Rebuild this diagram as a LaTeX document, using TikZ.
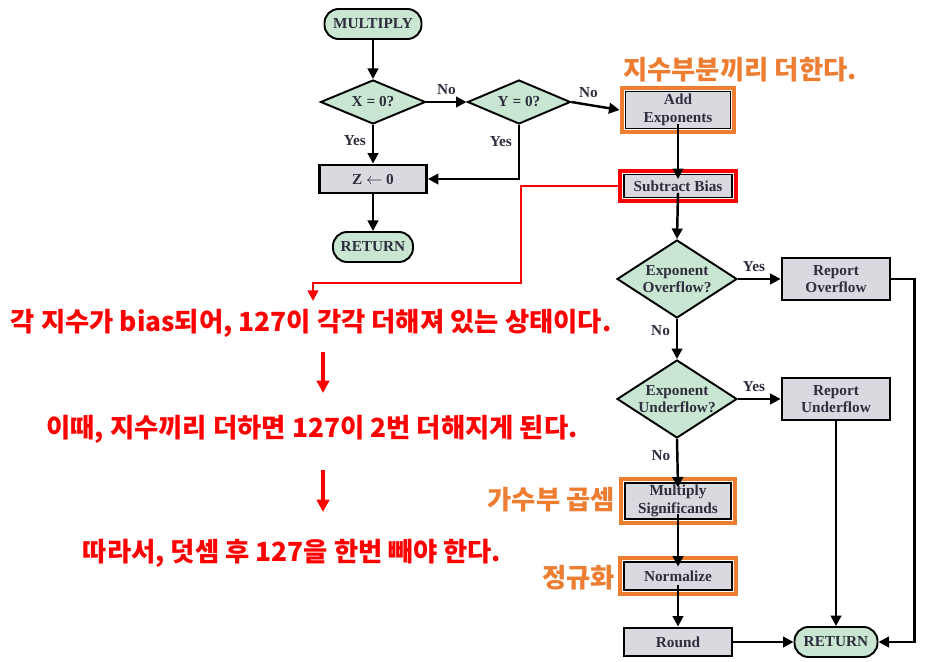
\documentclass[tikz,border=0pt]{standalone}
\usepackage{fontspec}
\setmainfont{Liberation Serif}
\newfontfamily\kor{Noto Sans CJK KR}
\usetikzlibrary{shapes.geometric,arrows.meta}
\definecolor{termfill}{HTML}{C8E6D1}
\definecolor{boxfill}{HTML}{D9DADF}
\definecolor{hlorange}{HTML}{ED7D31}
\definecolor{inkdark}{HTML}{2E2E3E}
\begin{document}
\begin{tikzpicture}[
      x=0.02cm, y=-0.02cm,
      every node/.style={font=\bfseries\fontsize{8.7}{10}\selectfont, text=inkdark},
      term/.style={draw, line width=1.1pt, rounded corners=8pt, fill=termfill, minimum height=0.6cm, inner sep=1pt},
      proc/.style={draw, line width=1.6pt, fill=boxfill, minimum width=2.16cm, minimum height=0.56cm, align=center, inner sep=1pt},
      dec/.style={draw, line width=1.1pt, diamond, fill=termfill, aspect=2.4, inner sep=0pt, align=center},
      bigdec/.style={dec, aspect=1.54, inner sep=-4pt, minimum width=2.4cm, minimum height=1.56cm},
      flow/.style={line width=1.4pt, -{Triangle[length=6pt,width=6pt]}},
      hlframe/.style={draw=hlorange, line width=2.3pt},
      redframe/.style={draw=red, line width=2.4pt},
      redline/.style={draw=red, line width=1.3pt, -{Triangle[length=6pt,width=6pt]}},
      redarrow/.style={draw=red, line width=1.8pt, -{Triangle[length=7pt,width=7pt]}},
      note/.style={font=\kor\bfseries\fontsize{15}{18}\selectfont, inner sep=1pt}
    ]
      \useasboundingbox (0,0) rectangle (929,662);

      % left branch
      \node[term, minimum width=1.94cm] (mul) at (373,24) {MULTIPLY};
      \node[dec, minimum width=2.1cm, minimum height=0.88cm] (xz) at (373,102) {X = 0?};
      \node[dec, minimum width=2.06cm, minimum height=0.88cm] (yz) at (519,102) {Y = 0?};
      \node[proc, minimum width=2.14cm] (zset) at (373,179) {Z $\leftarrow$ 0};
      \node[term, minimum width=1.6cm] (ret1) at (373,247) {RETURN};

      % main column
      \node[proc, minimum width=2.1cm, minimum height=0.74cm, line width=0.8pt] (add) at (678,110) {Add\\Exponents};
      \node[proc, minimum height=0.46cm, line width=0.8pt] (sub) at (678,186) {Subtract Bias};
      \node[bigdec] (ovf) at (677,279) {Exponent\\Overflow?};
      \node[bigdec] (unf) at (677,399) {Exponent\\Underflow?};
      \node[proc, minimum width=2.12cm, minimum height=0.72cm, line width=0.8pt] (msig) at (678,501) {Multiply\\Significands};
      \node[proc, minimum height=0.56cm, line width=0.8pt] (norm) at (678,576) {Normalize};
      \node[proc] (rnd) at (678,642) {Round};

      % right column
      \node[proc, minimum height=0.84cm] (rovf) at (836,279) {Report\\Overflow};
      \node[proc, minimum height=0.84cm] (runf) at (836,399) {Report\\Underflow};
      \node[term, minimum width=1.66cm] (ret2) at (836,642) {RETURN};

      \draw[hlframe] ([shift={(-3,-3)}]add.north west) rectangle ([shift={(3,3)}]add.south east);
      \draw[redframe] ([shift={(-3,-3)}]sub.north west) rectangle ([shift={(3,3)}]sub.south east);
      \draw[hlframe] ([shift={(-3,-3)}]msig.north west) rectangle ([shift={(3,3)}]msig.south east);
      \draw[hlframe] ([shift={(-3,-3)}]norm.north west) rectangle ([shift={(3,3)}]norm.south east);

      \draw[flow] (mul) -- (xz);
      \draw[flow] (xz) -- node[above] {No} (yz);
      \draw[flow] (yz.east) -- node[above, xshift=-4, yshift=1] {No} ([xshift=-3]add.west);
      \draw[flow] (xz) -- node[left, pos=0.4] {Yes} (zset);
      \draw[flow] (yz.south) |- node[left, pos=0.15] {Yes} (zset.east);
      \draw[flow] (zset) -- (ret1);
      \draw[flow] ([yshift=3]add.south) -- ([yshift=-3]sub.north);
      \draw[flow] ([yshift=3]sub.south) -- (ovf.north);
      \draw[flow] (ovf.east) -- node[above, xshift=-3] {Yes} (rovf.west);
      \draw[flow] (ovf.south) -- node[left, pos=0.3] {No} (unf.north);
      \draw[flow] (unf.east) -- node[above, xshift=-3] {Yes} (runf.west);
      \draw[flow] (unf.south) -- node[left, pos=0.35] {No} ([yshift=-3]msig.north);
      \draw[flow] ([yshift=3]msig.south) -- ([yshift=-3]norm.north);
      \draw[flow] ([yshift=3]norm.south) -- (rnd);
      \draw[flow] (rnd) -- (ret2);
      \draw[flow] (runf) -- (ret2);
      \draw[flow] (rovf.east) -- ++(23,0) |- (ret2.east);

      % notes
      \node[note, text=hlorange] (n0) at (740,70) {지수부분끼리 더한다.};
      \node[note, text=hlorange, anchor=east] (n4) at (617,500) {가수부 곱셈};
      \node[note, text=hlorange, anchor=east] (n5) at (617,578) {정규화};
      \node[note, text=red] (n1) at (311,323) {각 지수가 bias되어, 127이 각각 더해져 있는 상태이다.};
      \node[note, text=red] (n2) at (312,429) {이때, 지수끼리 더하면 127이 2번 더해지게 된다.};
      \node[note, text=red] (n3) at (292,553) {따라서, 덧셈 후 127을 한번 빼야 한다.};

      \coordinate (redend) at (313,301);
      \draw[redline] ([xshift=-3]sub.west) -- (521,186) -- (521,283) -| (redend);
      \draw[redarrow] (323,352) -- (323,393);
      \draw[redarrow] (323,470) -- (323,512);
    \end{tikzpicture}
\end{document}
